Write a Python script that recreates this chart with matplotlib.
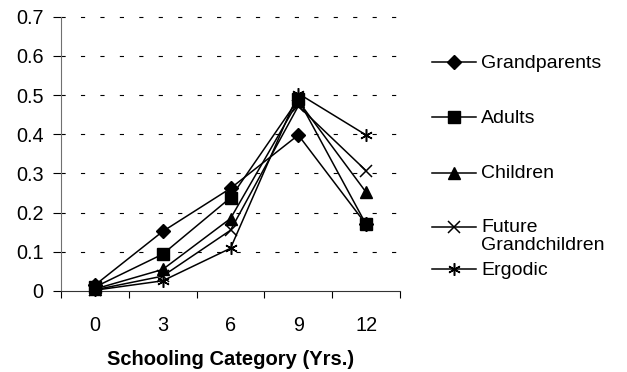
import matplotlib
matplotlib.use("Agg")
import matplotlib.pyplot as plt
from matplotlib.lines import Line2D

plt.rcParams['font.family'] = ['Liberation Sans', 'DejaVu Sans']
plt.rcParams['lines.scale_dashes'] = False

# Schooling categories (years) and share of population in each
categories = ["0", "3", "6", "9", "12"]
series_names = ["Grandparents", "Adults", "Children", "Future\nGrandchildren", "Ergodic"]
grandparents = [0.015, 0.152, 0.262, 0.398, 0.170]
adults = [0.010, 0.094, 0.238, 0.489, 0.170]
children = [0.005, 0.055, 0.185, 0.485, 0.252]
future_grandchildren = [0.003, 0.038, 0.155, 0.472, 0.307]
ergodic = [0.002, 0.026, 0.109, 0.504, 0.398]
y_ticks = [0, 0.1, 0.2, 0.3, 0.4, 0.5, 0.6, 0.7]
y_tick_labels = ["0", "0.1", "0.2", "0.3", "0.4", "0.5", "0.6", "0.7"]

series = [grandparents, adults, children, future_grandchildren, ergodic]
markers = [
    dict(marker='D', markersize=7, markerfacecolor='black', markeredgecolor='black'),
    dict(marker='s', markersize=8.2, markerfacecolor='black', markeredgecolor='black'),
    dict(marker='^', markersize=8, markerfacecolor='black', markeredgecolor='black'),
    dict(marker='x', markersize=8, markeredgewidth=1.1, markeredgecolor='black'),
    dict(marker=(6, 2, 0), markersize=9, markeredgewidth=1.1, markeredgecolor='black'),
]

W, H = 627, 372
fig = plt.figure(figsize=(W / 100, H / 100), dpi=100)
ax = fig.add_axes([61 / W, 1 - 291 / H, (400 - 61) / W, (291 - 16.7) / H])

xpos = list(range(len(categories)))
for vals, mk in zip(series, markers):
    ax.plot(xpos, vals, color='black', linewidth=1.1, zorder=3, clip_on=False, **mk)

ax.set_xlim(-0.5, len(categories) - 0.5)
ax.set_ylim(0, 0.7)

# y axis
ax.set_yticks(y_ticks)
ax.set_yticklabels(y_tick_labels)
ax.tick_params(axis='y', direction='out', length=5.5, width=0.8, labelsize=14.3, pad=7)

# category axis: ticks between categories, labels centred on categories
ax.set_xticks([i - 0.5 for i in range(len(categories) + 1)])
ax.set_xticklabels([])
ax.set_xticks(xpos, minor=True)
ax.set_xticklabels(categories, minor=True)
ax.tick_params(axis='x', which='major', direction='out', length=5, width=0.8)
ax.tick_params(axis='x', which='minor', length=0, labelsize=14.3, pad=18)

for side in ('top', 'right'):
    ax.spines[side].set_visible(False)
ax.spines['left'].set_linewidth(0.8)
ax.spines['left'].set_color('#707070')
ax.spines['bottom'].set_linewidth(0.8)
ax.spines['bottom'].set_color('#333333')

# dashed horizontal gridlines
for y in y_ticks[1:]:
    ax.axhline(y, color='black', linewidth=0.8, dashes=(3.0, 11.0),
               dash_capstyle='butt', zorder=1, clip_on=False)

ax.set_xlabel("Schooling Category (Yrs.)", fontsize=14.5, fontweight='bold', labelpad=11)

# legend drawn entry by entry; each label's lines are placed by baseline
legend_y = [61.7, 117.3, 172.7, 226.7, 269.0]
first_baseline_offset = 5.8
line_step = 17.5
for name, mk, ly in zip(series_names, markers, legend_y):
    yf = 1 - ly / H
    fig.add_artist(Line2D([432 / W, 476 / W], [yf, yf], color='black', linewidth=1.1,
                          transform=fig.transFigure))
    fig.add_artist(Line2D([454 / W], [yf], color='black', transform=fig.transFigure, **mk))
    for k, part in enumerate(name.split("\n")):
        yb = ly + first_baseline_offset + k * line_step
        fig.text(481 / W, 1 - yb / H, part, fontsize=14, va='baseline', ha='left')

fig.savefig("out.png", dpi=100)
